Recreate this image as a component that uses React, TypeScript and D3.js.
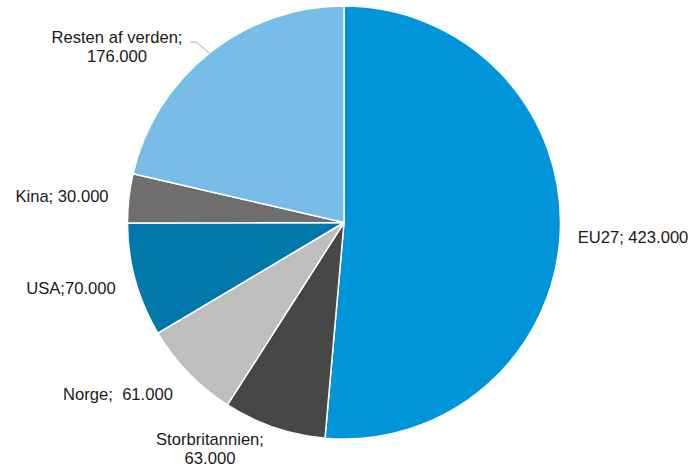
import { useEffect, useRef } from "react";
import * as d3 from "d3";

const categories = ["EU27", "Storbritannien", "Norge", "USA", "Kina", "Resten af verden"];
const values = [423000, 63000, 61000, 70000, 30000, 176000];
const labelLines = [
  ["EU27; 423.000"],
  ["Storbritannien;", "63.000"],
  ["Norge;  61.000"],
  ["USA;70.000"],
  ["Kina; 30.000"],
  ["Resten af verden;", "176.000"],
];
const colors = ["#0094D8", "#474747", "#BEBEBE", "#0078AA", "#6E6E6E", "#77BDE7"];

// label placement (centre x, first baseline y), picked by eye
const labelPos: [number, number][] = [
  [633, 243],
  [210, 445],
  [118, 400],
  [71, 294],
  [62, 202],
  [117, 43],
];

const W = 700;
const H = 470;
const cx = 344;
const cy = 222.5;
const radius = 216.5;

const App = () => {
  const svgRef = useRef<SVGSVGElement | null>(null);

  useEffect(() => {
    const svg = d3.select(svgRef.current);
    svg.selectAll("*").remove();

    const data = categories.map((c, i) => ({ name: c, value: values[i], i }));
    const pie = d3
      .pie<any>()
      .sort(null)
      .value((d) => d.value);
    const arcs = pie(data);
    const arc = d3.arc<any>().innerRadius(0).outerRadius(radius);

    const g = svg.append("g").attr("transform", `translate(${cx},${cy})`);

    g.selectAll("path")
      .data(arcs)
      .join("path")
      .attr("d", arc as any)
      .attr("fill", (d) => colors[d.data.i])
      .attr("stroke", "#fff")
      .attr("stroke-width", 1.5)
      .attr("stroke-linejoin", "round");

    // leader line for "Resten af verden"
    const rest = arcs[5];
    const mid = (rest.startAngle + rest.endAngle) / 2;
    const px = cx + Math.sin(mid) * radius;
    const py = cy - Math.cos(mid) * radius;
    svg
      .append("polyline")
      .attr("points", `${190},${42} ${196},${42} ${px},${py}`)
      .attr("fill", "none")
      .attr("stroke", "#A6A6A6")
      .attr("stroke-width", 1);

    const labels = svg
      .selectAll("text.lbl")
      .data(arcs)
      .join("text")
      .attr("class", "lbl")
      .attr("text-anchor", "middle")
      .attr("font-family", "'Liberation Sans', Arial, sans-serif")
      .attr("font-size", 16.6)
      .attr("fill", "#1a1a1a")
      .style("white-space", "pre");

    labels
      .selectAll("tspan")
      .data((d) => labelLines[d.data.i].map((t) => ({ t, i: d.data.i })))
      .join("tspan")
      .attr("x", (d) => labelPos[d.i][0])
      .attr("y", (d, k) => labelPos[d.i][1] + k * 18.5)
      .text((d) => d.t);
  }, []);

  return (
    <svg
      ref={svgRef}
      width={W}
      height={H}
      viewBox={`0 0 ${W} ${H}`}
      style={{ position: "absolute", left: 0, top: 0, background: "#fff" }}
    />
  );
};

export default App;
